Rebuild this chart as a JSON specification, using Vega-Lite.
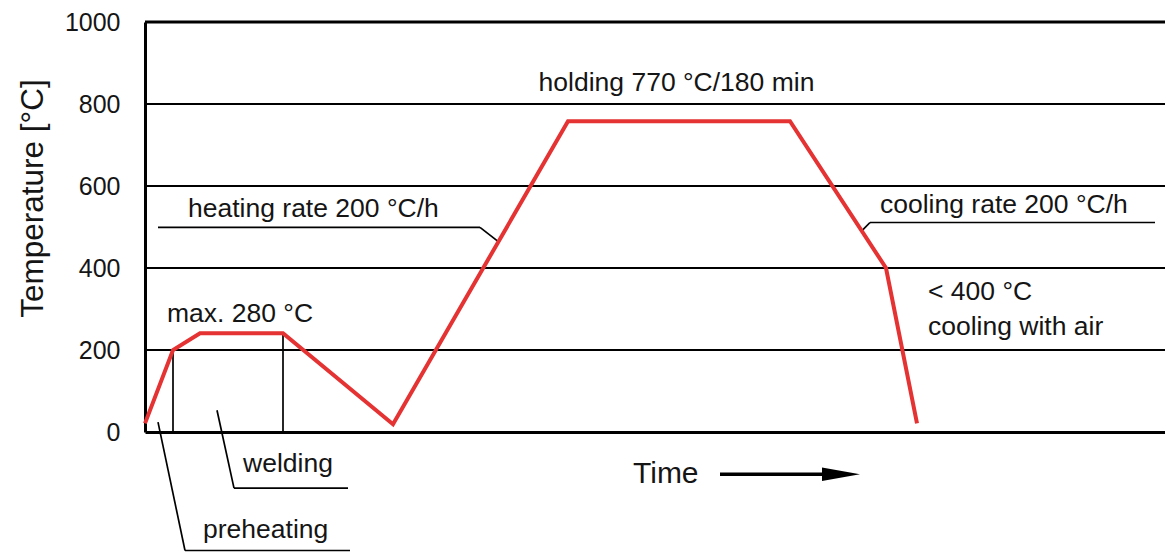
{
  "$schema": "https://vega.github.io/schema/vega-lite/v6.json",
  "width": 1020,
  "height": 410,
  "autosize": "none",
  "padding": {"left": 145, "top": 22, "right": 0, "bottom": 120},
  "background": "white",
  "config": {"view": {"stroke": null}, "font": "Liberation Sans"},
  "datasets": {
    "profile": [
      {"time": 0, "temp": 21},
      {"time": 28, "temp": 200},
      {"time": 55, "temp": 241},
      {"time": 138, "temp": 241},
      {"time": 248, "temp": 19},
      {"time": 423, "temp": 758},
      {"time": 645, "temp": 758},
      {"time": 741, "temp": 400},
      {"time": 772, "temp": 21}
    ],
    "grid": [{"temp": 200}, {"temp": 400}, {"temp": 600}, {"temp": 800}],
    "top": [{"temp": 1000}],
    "segments": [
      {"time": 28, "temp": 0, "time2": 28, "temp2": 200},
      {"time": 138, "temp": 0, "time2": 138, "temp2": 241},
      {"time": 13, "temp": 499, "time2": 335, "temp2": 499},
      {"time": 335, "temp": 499, "time2": 353, "temp2": 465},
      {"time": 717, "temp": 491, "time2": 725, "temp2": 511},
      {"time": 725, "temp": 511, "time2": 1010, "temp2": 511},
      {"time": 72, "temp": 53, "time2": 89, "temp2": -137},
      {"time": 89, "temp": -137, "time2": 203, "temp2": -137},
      {"time": 13, "temp": 24, "time2": 40, "temp2": -289},
      {"time": 40, "temp": -289, "time2": 205, "temp2": -289}
    ],
    "arrow": [{"time": 575, "temp": -103, "time2": 680, "temp2": -103}],
    "head": [{"time": 696, "temp": -103}],
    "labels": [
      {"time": 43, "temp": 524, "text": "heating rate 200 °C/h"},
      {"time": 735, "temp": 533, "text": "cooling rate 200 °C/h"},
      {"time": 783, "temp": 321, "text": "< 400 °C"},
      {"time": 783, "temp": 236, "text": "cooling with air"},
      {"time": 22, "temp": 268, "text": "max. 280 °C"},
      {"time": 98, "temp": -98, "text": "welding"},
      {"time": 58, "temp": -259, "text": "preheating"}
    ],
    "center": [{"time": 531.5, "temp": 831, "text": "holding 770 °C/180 min"}],
    "timeLabel": [{"time": 488, "temp": -125, "text": "Time"}]
  },
  "layer": [
    {
      "data": {"name": "grid"},
      "mark": {"type": "rule", "color": "black", "strokeWidth": 1.8},
      "encoding": {
        "y": {
          "field": "temp",
          "type": "quantitative",
          "scale": {"domain": [0, 1000], "nice": false},
          "axis": {
            "values": [0, 200, 400, 600, 800, 1000],
            "format": "d",
            "title": "Temperature [°C]",
            "grid": false,
            "ticks": false,
            "domain": true,
            "domainWidth": 3,
            "domainColor": "black",
            "labelFontSize": 25,
            "labelPadding": 25,
            "labelColor": "#151515",
            "labelFont": "Liberation Sans",
            "titleFont": "Liberation Sans",
            "titleFontSize": 31.5,
            "titleFontWeight": "normal",
            "titleColor": "#151515",
            "titleAngle": -90,
            "titleX": -103,
            "titleY": 176,
            "titleAlign": "center",
            "titleBaseline": "alphabetic"
          }
        }
      }
    },
    {
      "data": {"name": "top"},
      "mark": {"type": "rule", "color": "black", "strokeWidth": 3},
      "encoding": {"y": {"field": "temp", "type": "quantitative"}}
    },
    {
      "data": {"name": "segments"},
      "mark": {"type": "rule", "color": "black", "strokeWidth": 1.7},
      "encoding": {
        "x": {
          "field": "time",
          "type": "quantitative",
          "scale": {"domain": [0, 1020], "nice": false},
          "axis": {"domain": true, "domainWidth": 3, "domainColor": "black", "ticks": false, "labels": false, "title": null, "grid": false}
        },
        "y": {"field": "temp", "type": "quantitative"},
        "x2": {"field": "time2"},
        "y2": {"field": "temp2"}
      }
    },
    {
      "data": {"name": "arrow"},
      "mark": {"type": "rule", "color": "black", "strokeWidth": 3.5},
      "encoding": {
        "x": {"field": "time", "type": "quantitative"},
        "y": {"field": "temp", "type": "quantitative"},
        "x2": {"field": "time2"},
        "y2": {"field": "temp2"}
      }
    },
    {
      "data": {"name": "head"},
      "mark": {"type": "point", "shape": "M -1 -0.35 L 1 0 L -1 0.35 Z", "filled": true, "color": "black", "size": 1444, "opacity": 1},
      "encoding": {
        "x": {"field": "time", "type": "quantitative"},
        "y": {"field": "temp", "type": "quantitative"}
      }
    },
    {
      "data": {"name": "profile"},
      "mark": {"type": "line", "color": "#e53232", "strokeWidth": 4, "strokeJoin": "miter"},
      "encoding": {
        "x": {"field": "time", "type": "quantitative"},
        "y": {"field": "temp", "type": "quantitative"}
      }
    },
    {
      "data": {"name": "labels"},
      "mark": {"type": "text", "align": "left", "baseline": "alphabetic", "fontSize": 26.5, "color": "#151515", "font": "Liberation Sans"},
      "encoding": {
        "x": {"field": "time", "type": "quantitative"},
        "y": {"field": "temp", "type": "quantitative"},
        "text": {"field": "text"}
      }
    },
    {
      "data": {"name": "center"},
      "mark": {"type": "text", "align": "center", "baseline": "alphabetic", "fontSize": 26.5, "color": "#151515", "font": "Liberation Sans"},
      "encoding": {
        "x": {"field": "time", "type": "quantitative"},
        "y": {"field": "temp", "type": "quantitative"},
        "text": {"field": "text"}
      }
    },
    {
      "data": {"name": "timeLabel"},
      "mark": {"type": "text", "align": "left", "baseline": "alphabetic", "fontSize": 30, "color": "#151515", "font": "Liberation Sans"},
      "encoding": {
        "x": {"field": "time", "type": "quantitative"},
        "y": {"field": "temp", "type": "quantitative"},
        "text": {"field": "text"}
      }
    }
  ]
}
